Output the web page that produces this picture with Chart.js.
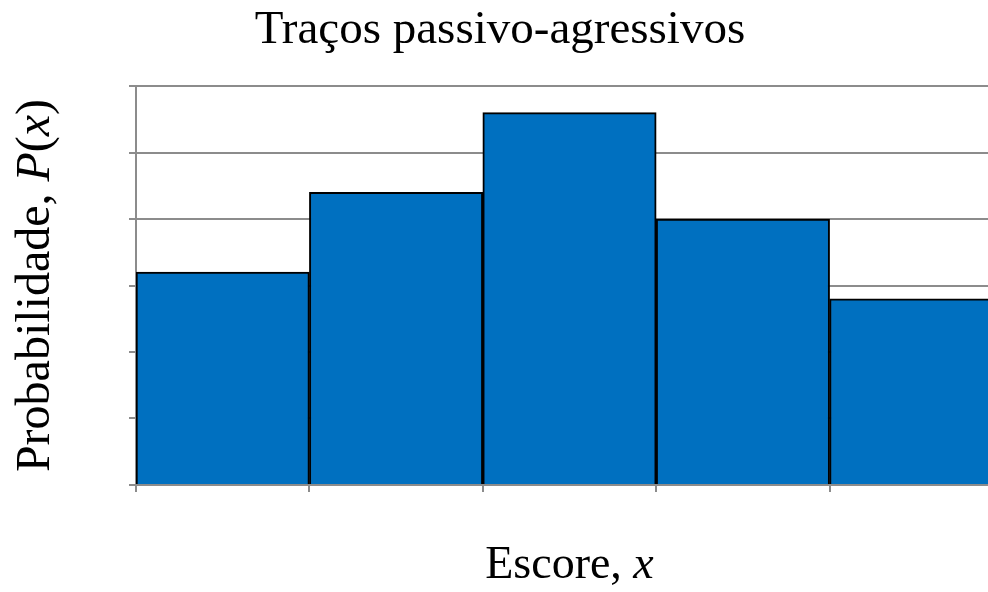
<!DOCTYPE html>
<html lang="pt">
<head>
    <meta charset="UTF-8">
    <title>Traços passivo-agressivos</title>
    <script src="https://cdn.jsdelivr.net/npm/chart.js"></script>
    <style>
        html, body { margin: 0; padding: 0; background: #fff; overflow: hidden; }
    </style>
</head>
<body>

<!-- the original figure is cut off on the right, so the canvas is a bit wider than the window -->
<canvas id="histChart" width="1004" height="592"></canvas>

<script type="text/javascript">
    // Data
    const scores = ['1', '2', '3', '4', '5'];
    const probabilities = [0.16, 0.22, 0.28, 0.20, 0.14];
    const yTicks = [0, 0.05, 0.10, 0.15, 0.20, 0.25, 0.30];

    const chartTitle = 'Traços passivo-agressivos';
    // axis titles as [text, italic] pieces
    const xTitle = [['Escore, ', false], ['x', true]];
    const yTitle = [['Probabilidade, ', false], ['P', true], ['(', false], ['x', true], [')', false]];

    const serif = '"Liberation Serif", "Times New Roman", serif';
    const gridGray = '#8c8c8c';

    function drawPieces(ctx, pieces, size) {
        let total = 0;
        pieces.forEach(p => {
            ctx.font = (p[1] ? 'italic ' : '') + size + 'px ' + serif;
            total += ctx.measureText(p[0]).width;
        });
        let x = -total / 2;
        pieces.forEach(p => {
            ctx.font = (p[1] ? 'italic ' : '') + size + 'px ' + serif;
            ctx.fillText(p[0], x, 0);
            x += ctx.measureText(p[0]).width;
        });
    }

    // draws the title and the mixed roman/italic axis titles
    const textPlugin = {
        id: 'texts',
        afterDraw(chart) {
            const ctx = chart.ctx;
            const area = chart.chartArea;
            ctx.save();
            ctx.fillStyle = '#000';
            ctx.textBaseline = 'alphabetic';
            ctx.textAlign = 'left';

            // main title
            ctx.save();
            ctx.translate(500, 43);
            drawPieces(ctx, [[chartTitle, false]], 47);
            ctx.restore();

            // x title
            ctx.save();
            ctx.translate((area.left + area.right) / 2, 578);
            drawPieces(ctx, xTitle, 46);
            ctx.restore();

            // y title
            ctx.save();
            ctx.translate(49, (area.top + area.bottom) / 2);
            ctx.rotate(-Math.PI / 2);
            drawPieces(ctx, yTitle, 48);
            ctx.restore();

            ctx.restore();
        }
    };

    const ctx = document.getElementById('histChart').getContext('2d');
    new Chart(ctx, {
        type: 'bar',
        data: {
            labels: scores,
            datasets: [{
                data: probabilities,
                backgroundColor: '#0070c0',
                borderColor: '#000',
                borderWidth: 2,
                barPercentage: 1.0,
                categoryPercentage: 1.0
            }]
        },
        options: {
            responsive: false,
            animation: false,
            layout: {
                padding: { top: 86, left: 129, right: 1, bottom: 100 }
            },
            plugins: {
                legend: { display: false },
                title: { display: false },
                tooltip: { enabled: false }
            },
            scales: {
                x: {
                    grid: {
                        offset: true,
                        drawOnChartArea: false,
                        drawTicks: true,
                        tickLength: 7,
                        color: gridGray,
                        lineWidth: 2
                    },
                    border: { color: gridGray, width: 2 },
                    ticks: { display: false }
                },
                y: {
                    min: 0,
                    max: 0.30,
                    afterBuildTicks: axis => {
                        axis.ticks = yTicks.map(v => ({ value: v }));
                    },
                    grid: {
                        drawTicks: true,
                        tickLength: 7,
                        color: gridGray,
                        lineWidth: 2
                    },
                    border: { color: gridGray, width: 2 },
                    ticks: { display: false }
                }
            }
        },
        plugins: [textPlugin]
    });
</script>

</body>
</html>
